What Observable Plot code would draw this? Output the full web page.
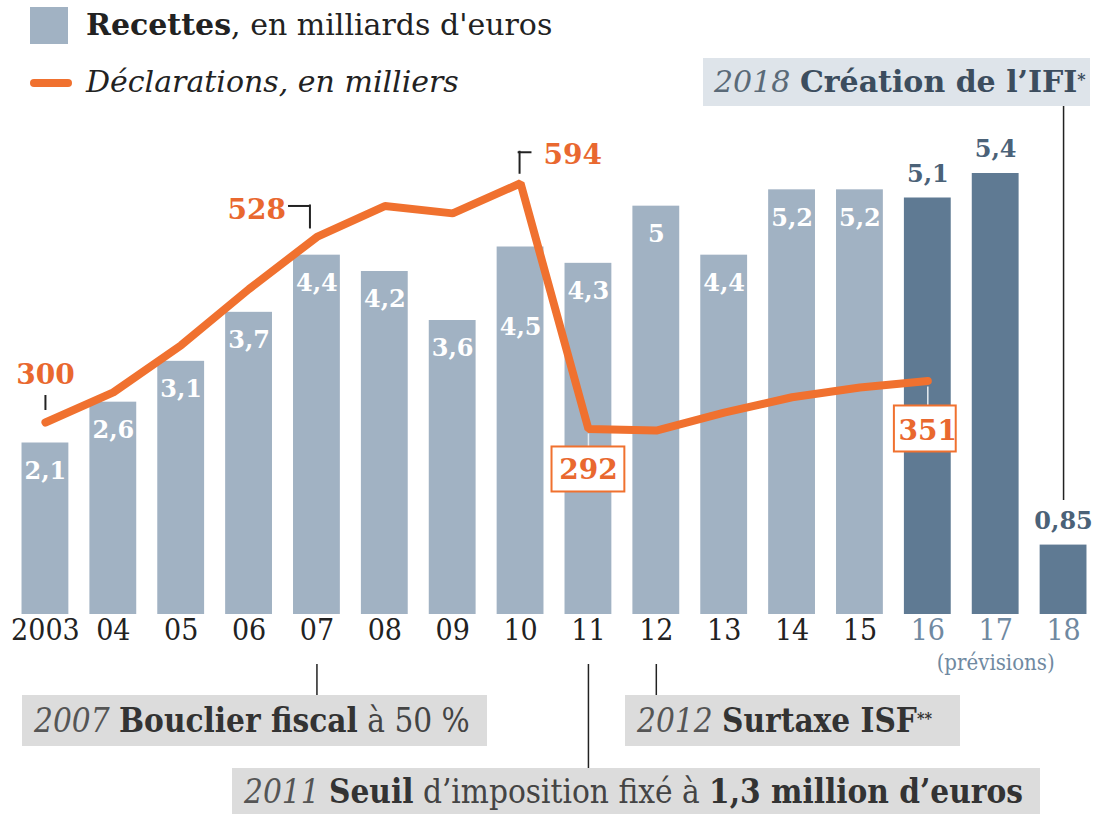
<!DOCTYPE html>
<html><head><meta charset="utf-8">
<script src="https://cdn.jsdelivr.net/npm/d3@7"></script>
<script src="https://cdn.jsdelivr.net/npm/@observablehq/plot@0.6"></script>
<style>
body{margin:0;background:#fff;}
#wrap{position:relative;width:1105px;height:814px;overflow:hidden;font-family:"DejaVu Serif",serif;}
#wrap svg{position:absolute;left:0;top:0;}
.abs{position:absolute;white-space:nowrap;box-sizing:border-box;}
.cond{font-family:"DejaVu Serif Condensed","DejaVu Serif",serif;font-stretch:condensed;}
.box{padding-left:12px;font-size:33px;color:#444;}
.box i{color:#555;font-weight:normal;}
.box b{color:#333;}
.box sup{font-size:16px;vertical-align:top;position:relative;top:-2px;}
</style></head><body><div id="wrap"></div>
<script>
// ---- data ----
const years = ["2003","04","05","06","07","08","09","10","11","12","13","14","15","16","17","18"];
const recettes = [2.1,2.6,3.1,3.7,4.4,4.2,3.6,4.5,4.3,5,4.4,5.2,5.2,5.1,5.4,0.85];
const recettesLabels = ["2,1","2,6","3,1","3,7","4,4","4,2","3,6","4,5","4,3","5","4,4","5,2","5,2","5,1","5,4","0,85"];
const forecastYears = ["16","17","18"];
const declYears = ["2003","04","05","06","07","08","09","10","11","12","13","14","15","16"];
const declarations = [300,337,395,464,528,566,557,594,292,290,312,331,343,351];

// ---- styling ----
const LIGHT = "#a1b2c3", DARK = "#5f7a93", ORANGE = "#f0712f", ORANGE_TXT = "#e9682f";
const SERIF = "DejaVu Serif", COND = "DejaVu Serif Condensed";
const W = 1105, H = 814, M_TOP = 173, M_BOTTOM = 200, Y_MAX = 5.4;
const PX_PER_UNIT = (H - M_TOP - M_BOTTOM) / Y_MAX;
const u = px => px / PX_PER_UNIT;               // pixel offset -> value units
const declToY = d3.scaleLinear().domain([64, 606]).range([0, Y_MAX]); // secondary (declarations) scale

const bars = years.map((year, i) => ({year, value: recettes[i], label: recettesLabels[i], forecast: forecastYears.includes(year)}));
const decl = declYears.map((year, i) => ({year, value: declarations[i], y: declToY(declarations[i])}));
const pt = yr => decl.find(d => d.year === yr);
const p03 = [pt("2003")], p07 = [pt("07")], p10 = [pt("10")], p11 = [pt("11")], p16 = [pt("16")];

const orangeText = {x: "year", y: "y", text: d => String(d.value), fill: ORANGE_TXT, fontWeight: "bold", fontSize: 28, fontFamily: SERIF};

const chart = Plot.plot({
  width: W, height: H,
  marginTop: M_TOP, marginBottom: M_BOTTOM, marginLeft: 11, marginRight: 8,
  x: {domain: years, paddingInner: 0.31, paddingOuter: 0.155, round: false, axis: null},
  y: {domain: [0, Y_MAX], axis: null},
  marks: [
    Plot.barY(bars.filter(d => !d.forecast), {x: "year", y: "value", fill: LIGHT}),
    Plot.barY(bars.filter(d => d.forecast), {x: "year", y: "value", fill: DARK}),
    Plot.text(bars.filter(d => !d.forecast && d.year !== "10"), {x: "year", y: "value", text: "label", dy: 28, fill: "white", fontWeight: "bold", fontSize: 24, fontFamily: SERIF}),
    Plot.text(bars.filter(d => d.year === "10"), {x: "year", y: "value", text: "label", dy: 80, fill: "white", fontWeight: "bold", fontSize: 24, fontFamily: SERIF}),
    Plot.text(bars.filter(d => d.forecast), {x: "year", y: "value", text: "label", dy: -24, fill: "#4b6278", fontWeight: "bold", fontSize: 24, fontFamily: SERIF}),
    // year labels
    Plot.text(years.filter(y => !forecastYears.includes(y)), {x: d => d, text: d => d, frameAnchor: "bottom", dy: 25, fill: "#222", fontSize: 30, fontFamily: COND}),
    Plot.text(forecastYears, {x: d => d, text: d => d, frameAnchor: "bottom", dy: 25, fill: "#7089a1", fontSize: 30, fontFamily: COND}),
    Plot.text(["17"], {x: d => d, text: () => "(prévisions)", frameAnchor: "bottom", dy: 55, fill: "#7089a1", fontSize: 22, fontFamily: COND}),
    // declarations line
    Plot.line(decl, {x: "year", y: "y", stroke: ORANGE, strokeWidth: 8, strokeLinecap: "round", strokeLinejoin: "miter"}),
    // label 300
    Plot.ruleX(p03, {x: "year", y1: d => d.y + u(12), y2: d => d.y + u(27), stroke: "#222", strokeWidth: 2}),
    Plot.text(p03, {...orangeText, dy: -47}),
    // label 528
    Plot.ruleX(p07, {x: "year", y1: d => d.y + u(8), y2: d => d.y + u(32), dx: -7, stroke: "#222", strokeWidth: 2}),
    Plot.tickY(p07, {x: "year", y: d => d.y + u(31), dx: -7, insetLeft: 2, insetRight: 23, stroke: "#222", strokeWidth: 2}),
    Plot.text(p07, {...orangeText, textAnchor: "end", dx: -31, dy: -27}),
    // label 594
    Plot.ruleX(p10, {x: "year", y1: d => d.y + u(9), y2: d => d.y + u(32), dx: -1, stroke: "#222", strokeWidth: 2}),
    Plot.tickY(p10, {x: "year", y: d => d.y + u(31), dx: -1, insetLeft: 22, insetRight: 11, stroke: "#222", strokeWidth: 2}),
    Plot.text(p10, {...orangeText, textAnchor: "start", dx: 23, dy: -28}),
    // label 292 (boxed)
    Plot.ruleX(p11, {x: "year", y1: d => d.y - u(5), y2: d => d.y - u(18), stroke: "#e8edf2", strokeWidth: 1.5}),
    Plot.barY(p11, {x: "year", y1: d => d.y - u(18), y2: d => d.y - u(63), insetLeft: -13, insetRight: -13, fill: "white", stroke: ORANGE, strokeWidth: 2}),
    Plot.text(p11, {...orangeText, dy: 41}),
    // label 351 (boxed)
    Plot.ruleX(p16, {x: "year", y1: d => d.y - u(6), y2: d => d.y - u(25), stroke: "#e8edf2", strokeWidth: 1.5}),
    Plot.barY(p16, {x: "year", y1: d => d.y - u(25), y2: d => d.y - u(71), insetLeft: -10, insetRight: -5, fill: "white", stroke: ORANGE, strokeWidth: 2}),
    Plot.text(p16, {...orangeText, dy: 50}),
    // leader lines to annotation boxes
    Plot.ruleX(["07", "12"], {x: d => d, y1: -u(50), y2: -u(82), stroke: "#222", strokeWidth: 1.5}),
    Plot.ruleX(["11"], {x: d => d, y1: -u(50), y2: -u(154), stroke: "#222", strokeWidth: 1.5}),
    Plot.ruleX(["18"], {x: d => d, y1: u(114), y2: u(508), stroke: "#222", strokeWidth: 1.5})
  ]
});
const wrap = document.getElementById("wrap");
wrap.appendChild(chart);

// legend and annotation boxes (HTML text)
wrap.insertAdjacentHTML("beforeend", `
<div class="abs" style="left:30px;top:7px;width:38px;height:37px;background:${LIGHT}"></div>
<div class="abs" style="left:86px;top:5px;font-size:30px;line-height:40px;color:#222"><b>Recettes</b>, en milliards d'euros</div>
<div class="abs" style="left:30px;top:79px;width:42px;height:8px;border-radius:4px;background:${ORANGE}"></div>
<div class="abs" style="left:86px;top:62px;font-size:30px;line-height:40px;color:#222;font-style:italic">Déclarations, en milliers</div>
<div class="abs box" style="left:703px;top:58px;width:387px;height:48px;line-height:48px;background:#dee4ea;font-size:30px;padding-left:11px"><i style="color:#5a6a78">2018</i>&nbsp;<b style="color:#3c4d5e">Création de l’IFI<sup>*</sup></b></div>
<div class="abs box cond" style="left:22px;top:695px;width:465px;height:51px;line-height:51px;background:#dcdcdc"><i>2007</i>&nbsp;<b>Bouclier fiscal</b> à 50 %</div>
<div class="abs box cond" style="left:625px;top:695px;width:335px;height:51px;line-height:51px;background:#dcdcdc"><i>2012</i>&nbsp;<b>Surtaxe ISF<sup>**</sup></b></div>
<div class="abs box cond" style="left:232px;top:768px;width:808px;height:50px;line-height:48px;background:#dcdcdc"><i>2011</i>&nbsp;<b>Seuil</b> d’imposition fixé à <b>1,3 million d’euros</b></div>
`);
</script></body></html>
